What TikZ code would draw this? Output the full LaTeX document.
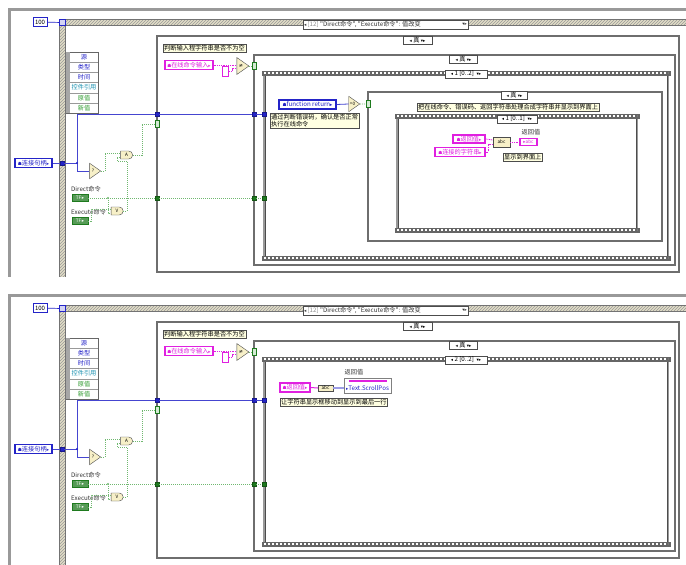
\documentclass[tikz,border=0pt]{standalone}
\usepackage{fontspec}
\setmainfont{Liberation Sans}
\newfontfamily\cjk{Noto Sans CJK SC}
\newfontfamily\symf{DejaVu Sans}
\usetikzlibrary{shapes.geometric,shapes.misc,patterns}
\definecolor{lvblue}{HTML}{2424C8}
\definecolor{lvpink}{HTML}{E020E0}
\definecolor{lvgreen}{HTML}{1E7A1E}
\definecolor{lvwireg}{HTML}{70B870}
\definecolor{cmtbg}{HTML}{FFFFE1}
\definecolor{gatebg}{HTML}{F7F0C8}
\definecolor{evbg}{HTML}{E2DDC6}
\definecolor{frgray}{HTML}{6E6E6E}
\definecolor{lvteal}{HTML}{1890B0}
\definecolor{lvdgreen}{HTML}{2E9A2E}
\newcommand\lvf{\cjk\fontsize{6.2}{7.4}\selectfont}
\newcommand\lvs{\cjk\fontsize{4.6}{5}\selectfont}
\newcommand\lvhouse{{\symf\fontsize{4.5}{5}\selectfont ☗}}
\newcommand\lvarr{{\symf\fontsize{4.5}{5}\selectfont ▸}}
\newcommand\lvarrl{{\symf\fontsize{4.5}{5}\selectfont ◂}}
\newcommand\lvdn{{\symf\fontsize{4.5}{5}\selectfont ▾}}
\tikzset{
 cmt/.style={draw=black!70, fill=cmtbg, inner sep=1pt, font=\lvf, anchor=north west, align=left},
 pinkctl/.style={draw=lvpink, line width=1.1pt, fill=white, text=lvpink, inner sep=0.8pt, font=\lvf, minimum height=9pt},
 bluectl/.style={draw=lvblue, line width=1.1pt, fill=white, text=lvblue, inner sep=0.8pt, font=\lvf, minimum height=9pt},
 boolctl/.style={draw=lvgreen, line width=0.9pt, fill=lvgreen!75, text=white, inner sep=0pt, minimum width=16pt, minimum height=7pt, font=\lvs},
 tri/.style={isosceles triangle, isosceles triangle apex angle=70, draw=black!70, fill=gatebg, inner sep=0.2pt, minimum height=11pt, font=\lvs},
 gate/.style={rounded rectangle, rounded rectangle left arc=none, draw=black!70, fill=gatebg, inner sep=0.5pt, minimum width=13pt, minimum height=8pt, font=\lvs},
 btun/.style={draw=lvblue!70!black, fill=lvblue, minimum size=4.5pt, inner sep=0pt},
 gtun/.style={draw=lvgreen!70!black, fill=lvgreen, minimum size=4.5pt, inner sep=0pt},
 gsel/.style={draw=lvgreen, fill=lvwireg!30, minimum width=4pt, minimum height=7pt, inner sep=0pt},
 sel/.style={draw=black!70, fill=white, inner sep=0.8pt, font=\lvf, minimum height=8pt},
 refw/.style={draw=lvblue!85, line width=0.8pt},
 boolw/.style={draw=lvwireg, line width=0.7pt, dash pattern=on 1pt off 1pt},
 strw/.style={draw=lvpink, line width=0.8pt, dash pattern=on 1pt off 0.8pt},
 intw/.style={draw=lvblue!45, line width=1.2pt},
 casefr/.style={draw=frgray, line width=2.6pt},
 lbl/.style={font=\lvf, inner sep=0pt, text=black!80},
 evrow/.style={font=\lvf, inner sep=0pt},
 fn/.style={draw=black!70, fill=gatebg, inner sep=0pt, font=\lvs},
}
\newcommand\filmframe[4]{%
 \draw[black!40, line width=2pt] (#1,#2) rectangle (#3,#4);
 \draw[black!70, line width=0.4pt] (#1+1.3,#2) rectangle (#3-1.3,#4);
 \fill[black!60] (#1-2.5,#2-2.5) rectangle (#3+2.5,#2+2.5);
 \fill[black!60] (#1-2.5,#4-2.5) rectangle (#3+2.5,#4+2.5);
 \draw[white, line width=1.8pt, dash pattern=on 2pt off 2pt] (#1,#2) -- (#3,#2);
 \draw[white, line width=1.8pt, dash pattern=on 2pt off 2pt] (#1,#4) -- (#3,#4);
}
\newcommand\lvcommon[2]{%
 % outer loop frame
 \draw[black!40, line width=3pt] (9,300) -- (9,9) -- (700,9);
 % event structure frame
 \fill[evbg] (59,19) rectangle (700,25);
 \fill[pattern=north east lines, pattern color=black!40] (59,19) rectangle (700,25);
 \fill[evbg] (59,19) rectangle (65,300);
 \fill[pattern=north east lines, pattern color=black!40] (59,19) rectangle (65,300);
 \draw[black!55, line width=0.6pt] (59,300) -- (59,19) -- (700,19);
 \draw[black!55, line width=0.6pt] (65,300) -- (65,25) -- (700,25);
 % case structures and sequence
 \draw[casefr] (157,36) rectangle (679,272);
 \draw[casefr, line width=2.4pt] (254,55) rectangle (675,265);
 \filmframe{264}{73}{668}{258}
 % event selector
 \node[sel, minimum width=165pt, minimum height=9pt] (evsel#1) at (385.5,24.5) {};
 \node[lbl, anchor=west] (evselt#1) at ([xshift=1pt]evsel#1.west) {\lvarrl{}\ \textcolor{black!45}{[12]} "Direct命令", "Execute命令": 值改变};
 \node[lbl, anchor=east] (evsela#1) at ([xshift=-1pt]evsel#1.east) {\lvdn{}\lvarr{}};
 % timeout
 \node[draw=lvblue, line width=0.9pt, fill=white, font=\cjk\fontsize{6}{6}\selectfont, minimum width=14pt, minimum height=9pt, inner sep=0pt] (c100#1) at (40,22) {100};
 \node[draw=lvblue, fill=lvblue!20, minimum size=6pt, inner sep=0pt] (tmo#1) at (62,22.5) {};
 % event data node
 \node[draw=black!60, fill=white, minimum width=32pt, minimum height=61pt, inner sep=0pt, anchor=north west] (evd#1) at (66,52) {};
 \fill[black!35] (66,52) rectangle (69.5,113);
 \draw[black!40, line width=0.4pt] (69.5,62.2) -- (98,62.2) (69.5,72.3) -- (98,72.3) (69.5,82.5) -- (98,82.5) (69.5,92.7) -- (98,92.7) (69.5,102.8) -- (98,102.8);
 \node[evrow, text=lvblue] (ev1#1) at (84,57.1) {源};
 \node[evrow, text=lvblue] (ev2#1) at (84,67.3) {类型};
 \node[evrow, text=lvblue] (ev3#1) at (84,77.4) {时间};
 \node[evrow, text=lvteal] (ev4#1) at (84,87.6) {控件引用};
 \node[evrow, text=lvdgreen] (ev5#1) at (84,97.8) {原值};
 \node[evrow, text=lvdgreen] (ev6#1) at (84,107.9) {新值};
 % selectors of the frames
 \node[sel, minimum width=29pt] (cs1#1) at (417.5,40.5) {\lvarrl{}\ 真\ \lvdn{}\lvarr{}};
 \node[sel, minimum width=28pt] (cs2#1) at (463.5,59) {\lvarrl{}\ 真\ \lvdn{}\lvarr{}};
 \node[sel, minimum width=42pt] (sq1#1) at (466,74) {\lvarrl{}\ #2\ \ \lvdn{}\lvarr{}};
 % left part
 \node[bluectl, minimum width=37pt] (hdl#1) at (33.5,163) {\lvhouse{}连接句柄\lvarr{}};
 \node[btun] (thdl#1) at (62,163) {};
 \coordinate (j1#1) at (77,163);
 \node[btun] (t1#1) at (157,114) {};
 \node[btun] (t2#1) at (254,114) {};
 \node[btun] (t3#1) at (264,114) {};
 \node[tri] (nan#1) at (93,171) {?};
 \node[gate] (and#1) at (126.5,155) {A};
 \node[gate] (or#1) at (117,211) {V};
 \node[gsel] (s1#1) at (157,124) {};
 \node[lbl, anchor=south west] (dlab#1) at (71,192) {Direct命令};
 \node[boolctl] (dir#1) at (80,198) {TF\,\lvarr{}};
 \node[lbl, anchor=south west] (elab#1) at (71,215) {Execute命令};
 \node[boolctl] (exe#1) at (80,221) {TF\,\lvarr{}};
 \coordinate (j2#1) at (108,198);
 \node[gtun] (g1#1) at (157,198) {};
 \node[gtun] (g2#1) at (254,198) {};
 \node[gtun] (g3#1) at (264,198) {};
 % case 1 content
 \node[cmt] (cm1#1) at (163,44) {判断输入程字符串是否不为空};
 \node[pinkctl, minimum width=48pt] (inp#1) at (189,65) {\lvhouse{}在线命令输入\lvarr{}};
 \node[draw=lvpink, line width=1.2pt, fill=white, minimum width=6pt, minimum height=10pt, inner sep=0pt] (emp#1) at (225.5,71.5) {};
 \node[tri, minimum height=12pt] (neq#1) at (241,66) {\symf\fontsize{5}{5}\selectfont ≠};
 \node[gsel] (s2#1) at (254,66) {};
 % wires
 \draw[draw=lvblue, line width=0.7pt] (c100#1) -- (tmo#1);
 \draw[refw] (hdl#1) -- (thdl#1) -- (j1#1) |- (t1#1);
 \draw[refw] (t1#1) -- (t2#1) -- (t3#1);
 \draw[refw] (j1#1) |- (nan#1.west);
 \fill[lvblue] (j1#1) circle (1.2pt);
 \draw[boolw] (nan#1.east) -- ++(4,0) |- ([yshift=2pt]and#1.west);
 \draw[boolw] (and#1.east) -- ++(9,0) |- (s1#1.west);
 \draw[boolw] (dir#1.east) -- (g1#1) -- (g2#1) -- (g3#1);
 \draw[boolw] (j2#1) |- ([yshift=-2pt]or#1.west);
 \draw[boolw] (exe#1.east) -- ++(3,0) |- ([yshift=2pt]or#1.west);
 \draw[boolw] (or#1.east) -| (127,161) -- (117,161) |- ([yshift=-2pt]and#1.west);
 \fill[lvwireg] (j2#1) circle (1.2pt);
 \draw[strw] (inp#1.east) -- (neq#1.west |- inp#1.east);
 \draw[strw] (emp#1.east) -- ++(3,0) |- ([yshift=-2.5pt]neq#1.west);
 \draw[boolw] (neq#1.east) -- (s2#1);
}
\begin{document}
\begin{tikzpicture}[x=1pt,y=-1pt]
\fill[white] (0,0) rectangle (686,565);
\useasboundingbox (0,0) rectangle (686,565);
% ===== panel 1 =====
\begin{scope}
 \clip (0,0) rectangle (686,276);
 \lvcommon{a}{1 [0..2]}
 \draw[casefr] (368,92) rectangle (662,241);
 \filmframe{397}{116}{637}{230}
 \node[sel, minimum width=26pt] (cs3) at (514.5,95.5) {\lvarrl{}\ 真\ \lvdn{}\lvarr{}};
 \node[sel, minimum width=40pt] (sq2) at (517,119) {\lvarrl{}\ 1 [0..1]\ \ \lvdn{}\lvarr{}};
 \node[bluectl, minimum width=57pt] (fr) at (307.5,104.5) {\lvhouse{}function return\lvarr{}};
 \node[tri] (eq0) at (352.5,104) {=0};
 \node[gsel] (s3) at (368.5,104) {};
 \node[cmt] (cm2) at (270,113) {通过判断错误码，确认是否正常\\执行在线命令};
 \node[cmt] (cm3) at (417,103) {把在线命令、错误码、返回字符串处理合成字符串并显示到界面上};
 \node[pinkctl, minimum width=32pt, minimum height=8pt] (ret) at (469,139) {\lvhouse{}返回值\lvarr{}};
 \node[pinkctl, minimum width=50pt, minimum height=9pt] (cstr) at (460,152) {\lvhouse{}连接的字符串\lvarr{}};
 \node[fn, minimum width=17pt, minimum height=10pt] (cat) at (501.5,142) {abc};
 \node[pinkctl, minimum width=17pt, minimum height=7pt, font=\lvs] (ind) at (528.5,142) {\lvarr{}abc};
 \node[lbl] (indl) at (531,132) {返回值};
 \node[cmt] (cm4) at (503,153) {显示到界面上};
 \draw[refw] (fr.east) -- (eq0.west);
 \draw[boolw] (eq0.east) -- (s3);
 \draw[strw] (ret.east) -- ([yshift=2pt]cat.west);
 \draw[strw] (cstr.east) -- ++(3,0) |- ([yshift=-2pt]cat.west);
 \draw[strw] (cat.east) -- (ind.west);
\end{scope}
% ===== panel 2 =====
\begin{scope}[shift={(0,286)}]
 \clip (0,1) rectangle (686,279);
 \lvcommon{b}{2 [0..2]}
 \node[lbl] (pnl) at (354,86.5) {返回值};
 \node[draw=black!50, fill=white, minimum width=47pt, minimum height=15pt, inner sep=0pt] (pn) at (367.5,99.5) {};
 \fill[lvpink] (349,93.5) rectangle (387,95.5);
 \node[font=\lvf, text=lvblue, inner sep=0pt] (pnt) at (367.5,102.5) {\lvarr{}Text.ScrollPos};
 \node[pinkctl, minimum width=30pt] (ret2) at (295,101.5) {\lvhouse{}返回值\lvarr{}};
 \node[fn, minimum width=15pt, minimum height=6.5pt] (slen) at (325.5,102) {abc};
 \node[cmt] (cm5) at (280,112) {让字符串显示框移动到显示到最后一行};
 \draw[draw=lvpink, line width=1pt] (ret2.east) -- (slen.west);
 \draw[intw] (slen.east) -- (slen.east -| pn.west);
\end{scope}
\end{tikzpicture}
\end{document}
